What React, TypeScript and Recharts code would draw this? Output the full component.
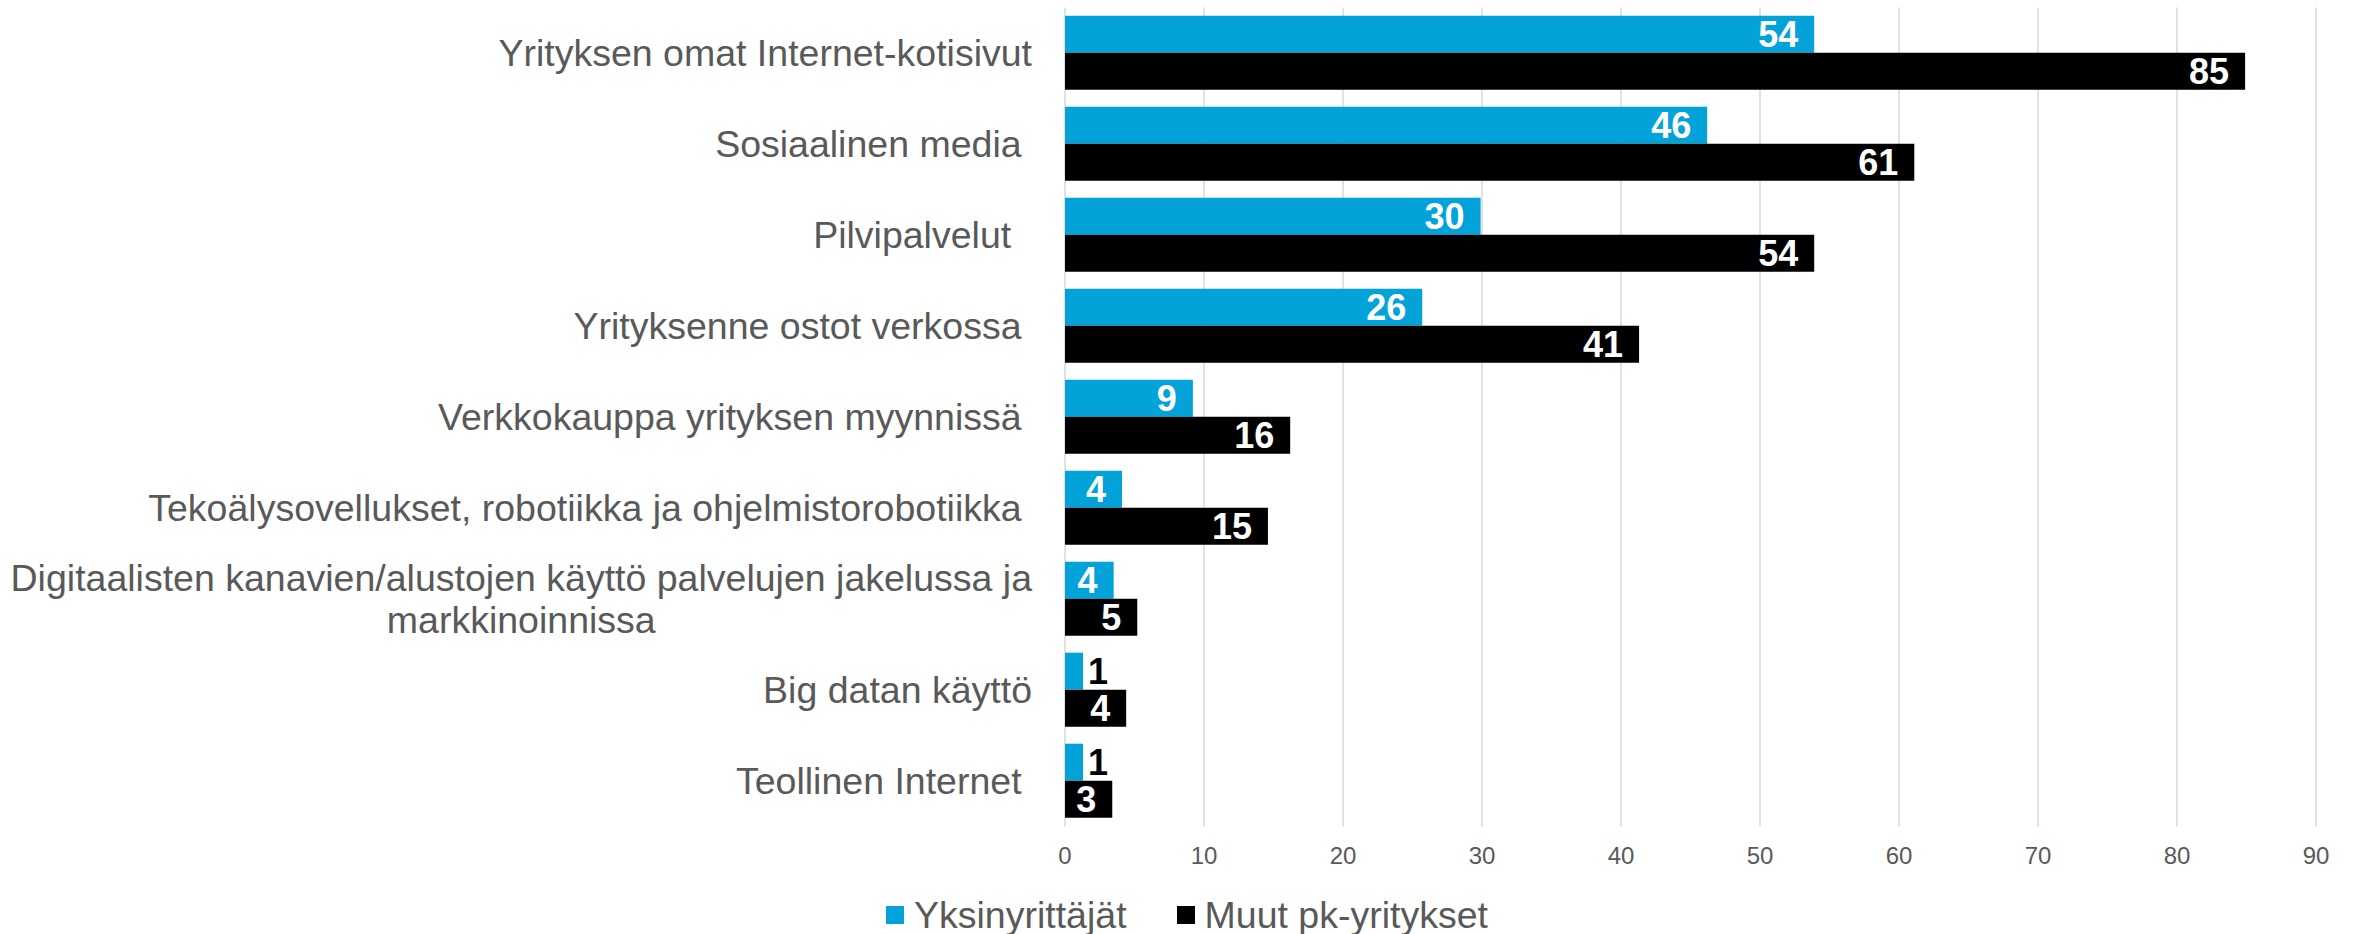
import React from 'react';
import { BarChart, Bar, XAxis, YAxis, CartesianGrid, LabelList } from 'recharts';

const categories: string[] = [
  'Yrityksen omat Internet-kotisivut',
  'Sosiaalinen media ',
  'Pilvipalvelut  ',
  'Yrityksenne ostot verkossa ',
  'Verkkokauppa yrityksen myynnissä ',
  'Tekoälysovellukset, robotiikka ja ohjelmistorobotiikka ',
  'Digitaalisten kanavien/alustojen käyttö palvelujen jakelussa ja\nmarkkinoinnissa',
  'Big datan käyttö',
  'Teollinen Internet ',
];
const yksinyrittajat: number[] = [53.9, 46.2, 29.9, 25.7, 9.2, 4.1, 3.5, 1.3, 1.3];
const muutPk: number[] = [84.9, 61.1, 53.9, 41.3, 16.2, 14.6, 5.2, 4.4, 3.4];
const xTicks: number[] = [0, 10, 20, 30, 40, 50, 60, 70, 80, 90];
const seriesNames: string[] = ['Yksinyrittäjät', 'Muut pk-yritykset'];
const seriesColors: string[] = ['#03A3DA', '#000000'];

const data = categories.map((c, i) => ({ name: c, a: yksinyrittajat[i], b: muutPk[i] }));

const FONT = '"Liberation Sans", Arial, sans-serif';
const GRAY = '#595959';
const CAT_SIZE = 37.5;

function measure(text: string, size: number): number {
  try {
    const ctx = document.createElement('canvas').getContext('2d');
    if (ctx) {
      ctx.font = `${size}px "Liberation Sans", Arial, sans-serif`;
      return ctx.measureText(text).width;
    }
  } catch (e) {}
  return text.length * size * 0.5;
}

const YTick = (props: any) => {
  const { x, y, payload } = props;
  const lines: string[] = String(payload.value).split('\n');
  if (lines.length === 1) {
    return (
      <text x={x} y={y} dy={13} textAnchor="end" fontSize={CAT_SIZE} fill={GRAY} fontFamily={FONT}
        xmlSpace="preserve" style={{ whiteSpace: 'pre' }}>
        {lines[0]}
      </text>
    );
  }
  const w1 = measure(lines[0], CAT_SIZE);
  return (
    <g>
      <text x={x} y={y} dy={-8} textAnchor="end" fontSize={CAT_SIZE} fill={GRAY} fontFamily={FONT}
        xmlSpace="preserve" style={{ whiteSpace: 'pre' }}>
        {lines[0]}
      </text>
      <text x={x - w1 / 2} y={y} dy={34} textAnchor="middle" fontSize={CAT_SIZE} fill={GRAY} fontFamily={FONT}>
        {lines[1]}
      </text>
    </g>
  );
};

const XTick = (props: any) => {
  const { x, y, payload } = props;
  return (
    <text x={x} y={y} dy={37.5} textAnchor="middle" fontSize={24} fill={GRAY} fontFamily={FONT}>
      {payload.value}
    </text>
  );
};

const BarLabel = (props: any) => {
  const { x, y, width, height, value } = props;
  const label = String(Math.round(Number(value)));
  const cy = y + height / 2 + 13;
  if (width > 30) {
    return (
      <text x={x + width - 16} y={cy} textAnchor="end" fontSize={36} fontWeight="bold" fill="#ffffff" fontFamily={FONT}>
        {label}
      </text>
    );
  }
  return (
    <text x={x + width + 5} y={cy} textAnchor="start" fontSize={36} fontWeight="bold" fill="#000000" fontFamily={FONT}>
      {label}
    </text>
  );
};

export default function App() {
  return (
    <div style={{ position: 'relative', width: 2358, height: 934, background: '#ffffff' }}>
      <style>{`body{margin:0;}`}</style>
      <BarChart
        width={2358}
        height={934}
        data={data}
        layout="vertical"
        margin={{ top: 7.5, right: 42, bottom: 57.5, left: 0 }}
        barCategoryGap="9%"
        barGap={0}
      >
        <CartesianGrid horizontal={false} vertical={true} stroke="#d9d9d9" strokeWidth={1.5} />
        <XAxis
          type="number"
          domain={[0, 90]}
          ticks={xTicks}
          interval={0}
          axisLine={false}
          tickLine={false}
          tickSize={0}
          tickMargin={0}
          height={50}
          tick={<XTick />}
        />
        <YAxis
          type="category"
          dataKey="name"
          width={1065}
          axisLine={false}
          tickLine={false}
          tickSize={0}
          tickMargin={33}
          interval={0}
          tick={<YTick />}
        />
        <Bar dataKey="a" name={seriesNames[0]} fill={seriesColors[0]} isAnimationActive={false}>
          <LabelList dataKey="a" content={<BarLabel />} />
        </Bar>
        <Bar dataKey="b" name={seriesNames[1]} fill={seriesColors[1]} isAnimationActive={false}>
          <LabelList dataKey="b" content={<BarLabel />} />
        </Bar>
      </BarChart>
      <div
        style={{
          position: 'absolute',
          top: 894,
          left: 0,
          width: 2358,
          display: 'flex',
          justifyContent: 'center',
          alignItems: 'center',
          paddingLeft: 16,
          boxSizing: 'border-box',
          fontFamily: FONT,
          fontSize: 37.5,
          lineHeight: '42px',
          color: GRAY,
          whiteSpace: 'nowrap',
        }}
      >
        {seriesNames.map((n, i) => (
          <div key={n} style={{ display: 'flex', alignItems: 'center', marginLeft: i === 0 ? 0 : 50 }}>
            <span style={{ display: 'inline-block', width: 18, height: 18, background: seriesColors[i], marginRight: 10 }} />
            <span>{n}</span>
          </div>
        ))}
      </div>
    </div>
  );
}
